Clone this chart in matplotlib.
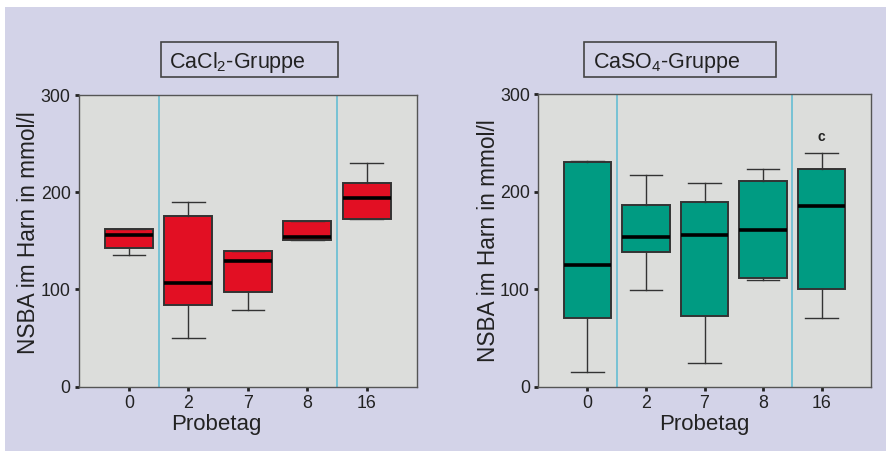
import matplotlib
matplotlib.use("Agg")
import matplotlib.pyplot as plt
from matplotlib.patches import Rectangle

plt.rcParams['font.family'] = ['Liberation Sans', 'DejaVu Sans']
plt.rcParams['mathtext.default'] = 'regular'

days = ['0', '2', '7', '8', '16']

# CaCl2 group: box statistics per sampling day
cacl2_whislo = [135, 50, 79, 151, 172]
cacl2_q1 = [143, 84, 97, 151, 172]
cacl2_med = [156, 107, 129, 154, 194]
cacl2_q3 = [162, 176, 140, 170, 210]
cacl2_whishi = [162, 190, 140, 170, 230]

# CaSO4 group
caso4_whislo = [15, 99, 24, 109, 70]
caso4_q1 = [70, 138, 73, 112, 100]
caso4_med = [125, 154, 156, 161, 185]
caso4_q3 = [231, 186, 189, 211, 223]
caso4_whishi = [232, 217, 209, 223, 240]

W, H = 886, 451
fig = plt.figure(figsize=(W / 100, H / 100), dpi=100)
fig.patch.set_facecolor('white')
fig.add_artist(Rectangle((5 / W, 0), 1, 1 - 7 / H, transform=fig.transFigure,
                         facecolor='#d3d3e8', edgecolor='none', zorder=-10))

AXBG = '#dcdddb'
VLINE = '#5bbad2'
FRAME = '#555555'


def make_panel(rect, whislo, q1, med, q3, whishi, color, title, title_box, title_x,
               xlabel_x, ylabel_y):
    ax = fig.add_axes(rect)
    ax.set_facecolor(AXBG)
    stats = []
    for i in range(len(days)):
        stats.append(dict(whislo=whislo[i], q1=q1[i], med=med[i], q3=q3[i],
                          whishi=whishi[i], label=days[i]))
    ax.bxp(stats, positions=range(len(days)), widths=0.81, patch_artist=True,
           showfliers=False,
           boxprops=dict(facecolor=color, edgecolor='#333333', linewidth=1.4),
           medianprops=dict(color='black', linewidth=2.6, solid_capstyle='butt'),
           whiskerprops=dict(color='#333333', linewidth=1.0),
           capprops=dict(color='#333333', linewidth=1.0),
           capwidths=0.55, zorder=3)
    for xv in (0.5, 3.5):
        ax.axvline(xv, color=VLINE, linewidth=1.1, zorder=1)
    ax.set_xlim(-0.84, 4.84)
    ax.set_ylim(0, 300)
    ax.set_yticks([0, 100, 200, 300])
    ax.set_xticks(range(len(days)))
    ax.set_xticklabels(days)
    for s in ax.spines.values():
        s.set_color(FRAME)
        s.set_linewidth(1.0)
    ax.tick_params(axis='both', direction='out', length=3, width=2, color='#222222',
                   labelsize=12.8, labelcolor='#222222', pad=3)
    ax.set_xlabel('Probetag', fontsize=16, color='#222222')
    ax.xaxis.set_label_coords(xlabel_x, -0.095)
    ax.set_ylabel('NSBA im Harn in mmol/l', fontsize=16.3, color='#222222')
    ax.yaxis.label.set_va('center')
    ax.yaxis.set_label_coords(-0.151, ylabel_y)
    # title box
    bx0, by0, bx1, by1 = title_box
    fig.add_artist(Rectangle((bx0 / W, 1 - by1 / H), (bx1 - bx0) / W, (by1 - by0) / H,
                             transform=fig.transFigure, facecolor='none',
                             edgecolor='#444444', linewidth=1.2))
    fig.text(title_x / W, 1 - 68 / H, title, fontsize=15.5, color='#222222',
             ha='left', va='baseline')
    return ax


ax1 = make_panel([79 / W, 1 - 386.7 / H, 337.7 / W, 291.7 / H],
                 cacl2_whislo, cacl2_q1, cacl2_med, cacl2_q3, cacl2_whishi,
                 '#e20f23', 'CaCl$_2$-Gruppe', (161, 42, 337.7, 77.3), 169,
                 0.408, 0.527)
ax2 = make_panel([538.3 / W, 1 - 386.7 / H, 332.4 / W, 292.4 / H],
                 caso4_whislo, caso4_q1, caso4_med, caso4_q3, caso4_whishi,
                 '#009b82', 'CaSO$_4$-Gruppe', (584.3, 42, 775.7, 77.3), 592.7,
                 0.5, 0.50)
ax2.text(4, 249, 'c', ha='center', va='bottom', fontsize=10, color='#222222',
         fontweight='bold')

fig.savefig('out.png', dpi=100, facecolor=fig.get_facecolor())
